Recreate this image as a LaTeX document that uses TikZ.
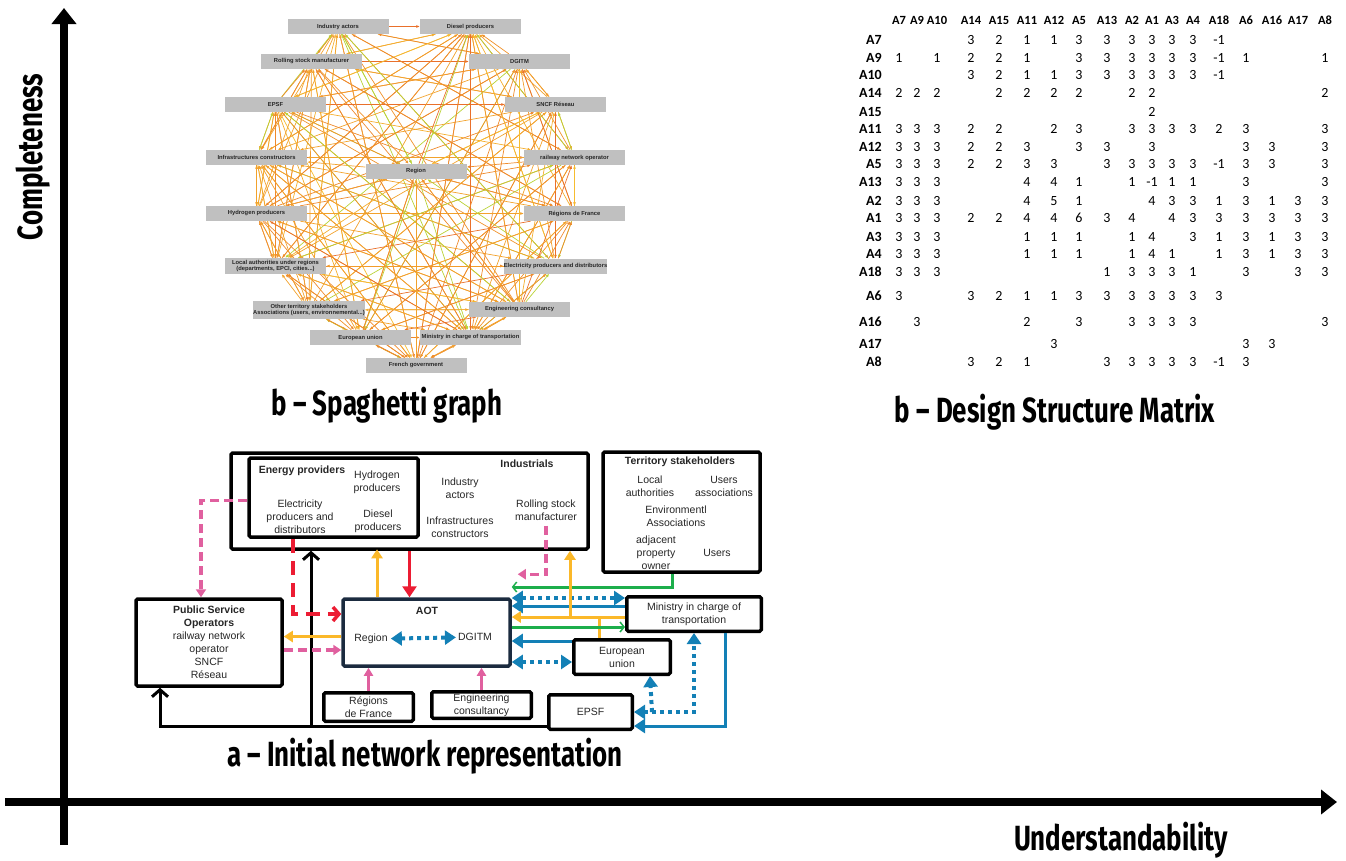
\documentclass[tikz,border=0pt]{standalone}
\usepackage{fontspec}
\setmainfont{Liberation Sans}
\newfontfamily\dsmfont{Carlito}
\newfontfamily\axisfont[FakeStretch=0.74]{Fira Sans}
\usetikzlibrary{arrows.meta,backgrounds}
\definecolor{sggray}{HTML}{C0C0C0}
\definecolor{sg0}{HTML}{F0922B}
\definecolor{sg1}{HTML}{F39C2A}
\definecolor{sg2}{HTML}{EE8A2C}
\definecolor{sg3}{HTML}{F6BC2F}
\definecolor{sg4}{HTML}{B9D235}
\definecolor{sg5}{HTML}{F4AE2E}
\definecolor{sg6}{HTML}{F2A22C}
\definecolor{sg7}{HTML}{E9702B}
\definecolor{netyellow}{HTML}{FBB829}
\definecolor{netred}{HTML}{EC1C33}
\definecolor{netpink}{HTML}{E0609F}
\definecolor{netgreen}{HTML}{1CAE4B}
\definecolor{netblue}{HTML}{1380B6}
\definecolor{netnavy}{HTML}{1B2B3F}
\tikzstyle{sgbox}=[fill=sggray,inner sep=0pt,minimum width=101pt,minimum height=15pt,align=center,font=\fontsize{5.8}{6.6}\selectfont\bfseries,text=black!85]
\tikzstyle{sgedge}=[line width=0.7pt,-{Latex[length=3.5pt,width=3pt]}]
\tikzstyle{dsmhead}=[font=\dsmfont\fontsize{12.5}{12.5}\selectfont\bfseries,inner sep=0pt]
\tikzstyle{dsmrow}=[font=\dsmfont\fontsize{14}{14}\selectfont\bfseries,inner sep=0pt]
\tikzstyle{dsmcell}=[font=\dsmfont\fontsize{14}{14}\selectfont,inner sep=0pt]
\tikzstyle{axistitle}=[font=\axisfont\fontsize{35}{35}\selectfont\bfseries,inner sep=0pt]
\tikzstyle{axisline}=[line width=8pt,-{Triangle[length=16pt,width=24pt]}]
\tikzstyle{netbox}=[draw,line width=3.5pt,rounded corners=1.5pt,inner sep=0pt,align=center,text=black!85,font=\fontsize{10.5}{13}\selectfont]
\tikzstyle{netlbl}=[inner sep=1pt,align=center,text=black!85,font=\fontsize{10.5}{13}\selectfont]
\tikzset{
  blkline/.style={line width=3pt,-{Straight Barb[length=7pt,width=16pt,line width=3pt]}},
  yelarrow/.style={netyellow,line width=3pt,-{Triangle[length=9pt,width=11pt]}},
  yelline/.style={netyellow,line width=3pt},
  redarrow/.style={netred,line width=3pt,-{Triangle[length=11pt,width=14pt]}},
  reddash/.style={netred,line width=3.5pt,dash pattern=on 14pt off 8pt,-{Straight Barb[length=6pt,width=14pt,line width=3.5pt]}},
  pinkarrow/.style={netpink,line width=3pt,-{Triangle[length=8pt,width=9pt]}},
  pinkdash/.style={netpink,line width=3.5pt,dash pattern=on 9pt off 5pt,-{Triangle[length=8pt,width=10pt]}},
  greenarrow/.style={netgreen,line width=3pt,-{Straight Barb[length=4pt,width=10pt,line width=1.5pt]}},
  bluearrow/.style={netblue,line width=3pt,-{Triangle[length=11pt,width=14pt]}},
  bluedot/.style={netblue,line width=4pt,dash pattern=on 4pt off 4pt,{Triangle[length=11pt,width=14pt]}-{Triangle[length=11pt,width=14pt]}},
  bluedotone/.style={netblue,line width=4pt,dash pattern=on 4pt off 4pt,-{Triangle[length=11pt,width=14pt]}}
}

\begin{document}
\begin{tikzpicture}[x=1pt,y=-1pt]
\useasboundingbox (0,0) rectangle (1346,860);

% axes
\coordinate (ybot) at (64,845);
\coordinate (ytop) at (64,8);
\coordinate (xleft) at (5,802);
\coordinate (xright) at (1337,802);
\draw[axisline] (ybot) -- (ytop);
\draw[axisline] (xleft) -- (xright);
\node[axistitle,rotate=90] (complete) at (33,157) {Completeness};
\node[axistitle,anchor=base] (underst) at (1121,850) {Understandability};
\node[axistitle] (tsg) at (387,405) {b – Spaghetti graph};
\node[axistitle] (tdsm) at (1055,412) {b – Design Structure Matrix};
\node[axistitle] (tnet) at (425,756) {a – Initial network representation};

% spaghetti graph
\node[sgbox] (ia) at (338,26.5) {Industry actors};
\node[sgbox] (dp) at (470.5,26.5) {Diesel producers};
\node[sgbox] (rs) at (311.5,61.5) {Rolling stock manufacturer};
\node[sgbox] (dg) at (519.5,61.5) {DGITM};
\node[sgbox] (ep) at (275.5,104.5) {EPSF};
\node[sgbox] (sn) at (555.5,104.5) {SNCF Réseau};
\node[sgbox] (ic) at (256.5,157.5) {Infrastructures constructors};
\node[sgbox] (rn) at (574.5,157.5) {railway network operator};
\node[sgbox] (rg) at (416,171.5) {Region};
\node[sgbox] (hp) at (256.5,213.5) {Hydrogen producers};
\node[sgbox] (rf) at (574.5,213.5) {Régions de France};
\node[sgbox,minimum height=16pt] (la) at (275.5,266) {Local authorities under regions\\(departments, EPCI, cities...)};
\node[sgbox] (el) at (555.5,266) {Electricity producers and distributors};
\node[sgbox,minimum height=18pt] (ot) at (309,310) {Other territory stakeholders\\Associations (users, environnemental...)};
\node[sgbox] (ec) at (519.5,309.5) {Engineering consultancy};
\node[sgbox] (eu) at (360.5,337.5) {European union};
\node[sgbox] (mt) at (470.5,337.5) {Ministry in charge of transportation};
\node[sgbox] (fg) at (416,365.5) {French government};
\begin{scope}[on background layer]
\foreach \a [count=\i] in {ia,dp,rs,dg,ep,sn,ic,rn,rg,hp,rf,la,el,ot,ec,eu,mt,fg}
  \foreach \b [count=\j] in {ia,dp,rs,dg,ep,sn,ic,rn,rg,hp,rf,la,el,ot,ec,eu,mt,fg}
  {
    \pgfmathtruncatemacro\k{mod(3*\i+5*\j+\i*\j,5)}
    \pgfmathtruncatemacro\cc{mod(\i+2*\j+\i*\j,8)}
    \ifnum\i=\j\else\ifnum\k<3
      \draw[sgedge,draw=sg\cc] (\a) -- (\b);
    \fi\fi
  }
\end{scope}

% design structure matrix
\foreach \h/\x [count=\c] in {A7/899,A9/917,A10/937,A14/971,A15/999,A11/1027,A12/1054,A5/1079,A13/1107,A2/1132,A1/1152,A3/1172,A4/1193,A18/1219,A6/1246,A16/1272,A17/1298,A8/1325}
  \node[dsmhead] (h\c) at (\x,20) {\h};
\foreach \r/\y/\vals [count=\i] in {
  A7/40/{x,x,x,3,2,1,1,3,3,3,3,3,3,-1,x,x,x,x},
  A9/58/{1,x,1,2,2,1,x,3,3,3,3,3,3,-1,1,x,x,1},
  A10/75/{x,x,x,3,2,1,1,3,3,3,3,3,3,-1,x,x,x,x},
  A14/93/{2,2,2,x,2,2,2,2,x,2,2,x,x,x,x,x,x,2},
  A15/112/{x,x,x,x,x,x,x,x,x,x,2,x,x,x,x,x,x,x},
  A11/129/{3,3,3,2,2,x,2,3,x,3,3,3,3,2,3,x,x,3},
  A12/147/{3,3,3,2,2,3,x,3,3,x,3,x,x,x,3,3,x,3},
  A5/164/{3,3,3,2,2,3,3,x,3,3,3,3,3,-1,3,3,x,3},
  A13/182/{3,3,3,x,x,4,4,1,x,1,-1,1,1,x,3,x,x,3},
  A2/201/{3,3,3,x,x,4,5,1,x,x,4,3,3,1,3,1,3,3},
  A1/218/{3,3,3,2,2,4,4,6,3,4,x,4,3,3,3,3,3,3},
  A3/237/{3,3,3,x,x,1,1,1,x,1,4,x,3,1,3,1,3,3},
  A4/254/{3,3,3,x,x,1,1,1,x,1,4,1,x,1,3,1,3,3},
  A18/272/{3,3,3,x,x,x,x,x,1,3,3,3,1,x,3,x,3,3},
  A6/296/{3,x,x,3,2,1,1,3,3,3,3,3,3,3,x,x,x,x},
  A16/322/{x,3,x,x,x,2,x,3,x,3,3,3,3,x,x,x,x,3},
  A17/344/{x,x,x,x,x,x,3,x,x,x,x,x,x,x,3,3,x,x},
  A8/362/{x,x,x,3,2,1,x,x,3,3,3,3,3,-1,3,x,x,x}}
{
  \node[dsmrow,anchor=east] (r\i) at (882,\y) {\r};
  \foreach \v [count=\c] in \vals
    {\if x\v\else\node[dsmcell] (m\i-\c) at (h\c |- r\i) {\v};\fi}
}

% network boxes
\node[netbox,minimum width=357pt,minimum height=96pt] (indus) at (409.5,501) {};
\node[netbox,minimum width=169pt,minimum height=79pt] (energy) at (333.5,497.5) {};
\node[netbox,minimum width=157pt,minimum height=120pt] (terr) at (681.5,512) {};
\node[netbox,minimum width=146pt,minimum height=87pt] (pso) at (209,642.5)
  {\textbf{Public Service}\\\textbf{Operators}\\railway network\\operator\\SNCF\\Réseau};
\node[netbox,draw=netnavy,minimum width=167pt,minimum height=67pt] (aot) at (426.5,632.5) {};
\node[netbox,minimum width=89.5pt,minimum height=28.5pt] (rdf) at (368.5,707) {Régions\\de France};
\node[netbox,minimum width=99.5pt,minimum height=26.5pt] (engc) at (481.5,705) {Engineering\\consultancy};
\node[netbox,minimum width=134.5pt,minimum height=34.5pt] (mini) at (694,614) {Ministry in charge of\\transportation};
\node[netbox,minimum width=96.5pt,minimum height=34.5pt] (euro) at (622,657) {European\\union};
\node[netbox,minimum width=83.5pt,minimum height=34.5pt] (epsf) at (590.5,712) {EPSF};

% network texts
\node[netlbl] (tep) at (302,471) {\textbf{Energy providers}};
\node[netlbl] (thy) at (377,482) {Hydrogen\\producers};
\node[netlbl] (tel) at (300,517) {Electricity\\producers and\\distributors};
\node[netlbl] (tdi) at (378,521) {Diesel\\producers};
\node[netlbl] (tia) at (460,488) {Industry\\actors};
\node[netlbl] (tic) at (460,527) {Infrastructures\\constructors};
\node[netlbl] (tin) at (527,464) {\textbf{Industrials}};
\node[netlbl] (trs) at (546,510) {Rolling stock\\manufacturer};
\node[netlbl] (tts) at (680,462) {\textbf{Territory stakeholders}};
\node[netlbl] (tla) at (650,486) {Local\\authorities};
\node[netlbl] (tua) at (724,486) {Users\\associations};
\node[netlbl] (tea) at (676,516) {Environmentl\\Associations};
\node[netlbl] (tap) at (656,553) {adjacent\\property\\owner};
\node[netlbl] (tus) at (717,553) {Users};
\node[netlbl] (taot) at (427,611) {\textbf{AOT}};
\node[netlbl,inner sep=3pt] (treg) at (371,639) {Region};
\node[netlbl,inner sep=2pt] (tdg) at (475,637) {DGITM};

% network connectors
\coordinate (bj) at (311,726);
\coordinate (pk) at (160,726);
\coordinate (yj) at (570,617);
\draw[blkline] (epsf.west |- bj) -- (pk) -- (pk |- pso.south);
\draw[blkline] (bj) -- (bj |- indus.south);
\draw[pinkdash] ([yshift=-3pt]energy.west) -| ([xshift=-8pt]pso.north);
\draw[reddash] ([xshift=-40.5pt]energy.south) |- ([yshift=18.5pt]aot.west);
\draw[yelarrow] ([xshift=-49.5pt]aot.north) -- ++(0,-48);
\draw[redarrow] (indus.south) -- (indus.south |- aot.north);
\draw[yelarrow] ([yshift=-4pt]aot.west) -- ([yshift=6pt]pso.east);
\draw[pinkdash] ([yshift=-7.5pt]pso.east) -- ([yshift=-17.5pt]aot.west);
\draw[pinkarrow] (rdf.north) -- (rdf.north |- aot.south);
\draw[pinkarrow] (engc.north) -- (engc.north |- aot.south);
\draw[pinkdash] ([yshift=-4pt]trs.south) |- ([xshift=6pt,yshift=23pt]aot.north east);
\draw[greenarrow] ([xshift=-9.5pt]terr.south) |- ([yshift=45.5pt]aot.east);
\draw[bluedot] ([yshift=34.5pt]aot.east) -- ([yshift=16pt]mini.west);
\draw[bluearrow] ([yshift=8pt]mini.west) -- ([yshift=26.5pt]aot.east);
\draw[yelarrow] ([yshift=-3pt]mini.west) -- ([yshift=15.5pt]aot.east);
\draw[yelarrow] (yj) -- (yj |- indus.south);
\draw[yelline] ([xshift=-23pt]euro.north) -- ++(0,-22);
\draw[greenarrow] ([yshift=5.5pt]aot.east) -- ([yshift=-13pt]mini.west);
\draw[bluearrow] ([yshift=16pt]euro.west) -- ([yshift=-8.5pt]aot.east);
\draw[bluedot] ([yshift=-29.5pt]aot.east) -- ([yshift=-5pt]euro.west);
\draw[bluedot] (epsf.east) -| (mini.south);
\draw[bluedotone] ([xshift=18pt]epsf.east) -- ([xshift=28pt]euro.south);
\draw[bluearrow] ([xshift=31pt]mini.south) |- ([yshift=-14pt]epsf.east);
\draw[bluedot] (treg) -- (tdg);
\end{tikzpicture}
\end{document}
